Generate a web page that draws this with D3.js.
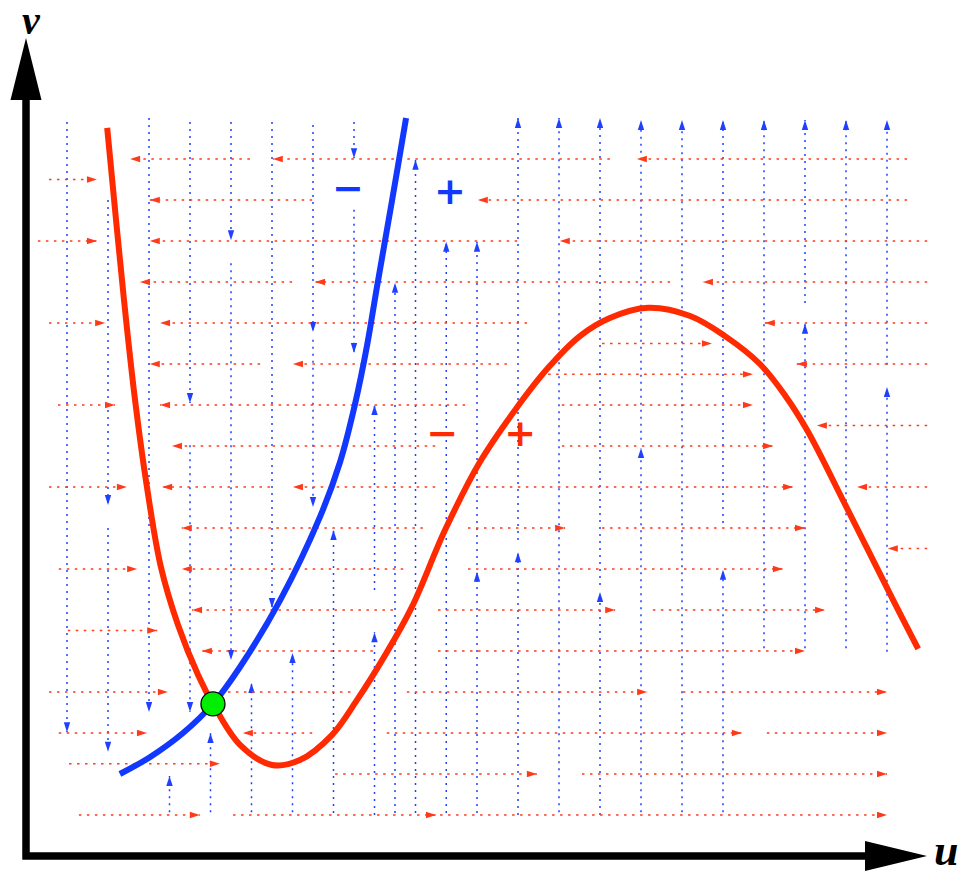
<!DOCTYPE html>
<html>
<head>
<meta charset="utf-8">
<script src="https://cdn.jsdelivr.net/npm/d3@7"></script>
<style>
  html, body { margin: 0; padding: 0; background: #fff; }
  svg { display: block; }
</style>
</head>
<body>
<svg id="chart" width="961" height="874"></svg>
<script>
// red nullcline (u' = 0), points as [u, v]
const redNullcline = [
    [1.98, 17.76], [2.39, 13.56], [2.66, 11.12], [2.95, 9.0], [3.29, 7.05],
    [3.71, 5.63], [4.20, 4.41], [4.56, 3.71], [5.22, 2.71], [6.0, 2.22],
    [6.68, 2.34], [7.46, 2.95], [8.07, 3.80], [8.76, 4.90], [9.41, 6.07],
    [10.22, 7.95], [11.07, 9.61], [11.93, 10.88], [12.73, 11.90], [13.51, 12.68],
    [14.24, 13.12], [15.17, 13.37], [16.20, 13.17], [17.05, 12.68], [17.90, 12.0],
    [18.51, 11.24], [19.05, 10.39], [20.02, 8.49], [21.15, 6.24], [21.76, 5.05]
];

// blue nullcline (v' = 0)
const blueNullcline = [
    [2.29, 2.0], [3.02, 2.41], [3.83, 3.0], [4.56, 3.71], [5.22, 4.61],
    [6.20, 6.24], [7.17, 8.27], [7.66, 9.61], [8.02, 11.0], [8.32, 12.46],
    [8.56, 13.88], [8.93, 16.0], [9.27, 18.0]
];

const steadyState = [4.56, 3.71];

// horizontal flow lines: [v, u at tail, u at head, has arrow]
const hFlow = [
    [17, 5.46, 2.54, 1], [17, 14.24, 6.02, 1], [17, 21.49, 14.90, 1],
    [16.5, 0.56, 1.73, 1],
    [16, 6.98, 3.02, 1], [16, 21.49, 11.02, 1],
    [15, 0.29, 1.73, 1], [15, 11.98, 3.02, 1], [15, 21.98, 13.02, 1],
    [14, 6.49, 2.78, 1], [14, 15.71, 7.05, 1], [14, 21.98, 16.51, 1],
    [13, 0.56, 1.93, 1], [13, 12.22, 3.27, 1], [13, 21.98, 18.02, 1],
    [12.5, 14.05, 16.73, 1],
    [12, 5.71, 3.02, 1], [12, 11.73, 6.51, 1], [12, 21.98, 18.80, 1],
    [11.75, 12.54, 17.73, 1],
    [11, 0.78, 2.17, 1], [11, 10.71, 3.27, 1], [11, 13.07, 17.73, 1],
    [10.5, 21.98, 19.29, 1],
    [10, 9.98, 3.56, 1], [10, 13.07, 18.22, 1],
    [9, 0.56, 2.46, 1], [9, 5.95, 3.32, 1], [9, 9.98, 6.51, 1], [9, 11.02, 18.71, 1], [9, 21.98, 20.27, 1],
    [8, 9.68, 3.80, 1], [8, 10.78, 13.15, 1], [8, 14.05, 19.00, 1],
    [7.5, 21.98, 21.02, 1],
    [7, 0.80, 2.71, 1], [7, 9.20, 3.80, 1], [7, 10.78, 18.46, 1],
    [6, 8.95, 4.05, 1], [6, 10.05, 14.37, 1], [6, 15.29, 19.49, 1],
    [5.5, 1.02, 3.20, 1],
    [5, 8.46, 4.29, 1], [5, 10.05, 19.00, 1],
    [4, 0.56, 3.46, 1], [4, 4.73, 7.98, 0], [4, 9.29, 15.15, 1], [4, 16.02, 21.00, 1],
    [3, 0.80, 2.95, 1], [3, 6.98, 5.29, 1], [3, 8.80, 17.46, 1], [3, 18.07, 21.00, 1],
    [2.25, 1.05, 4.73, 1],
    [2, 7.54, 12.46, 1], [2, 13.56, 21.00, 1],
    [1, 1.29, 4.24, 1], [1, 5.05, 10.0, 1], [1, 10.1, 21.0, 1]
];

// vertical flow lines: [u, v at tail, v at head, has arrow]
const vFlow = [
    [1, 17.9, 3.02, 1],
    [2, 16, 8.56, 1], [2, 8.0, 2.54, 1],
    [3, 18.0, 3.51, 1],
    [3.5, 1.07, 1.95, 1],
    [4, 17.9, 11.05, 1], [4, 10.02, 3.51, 1],
    [4.5, 1.07, 3.0, 1],
    [5, 17.9, 15.02, 1], [5, 14.46, 4.78, 1],
    [5.5, 1.07, 4.22, 1],
    [6, 17.9, 6.05, 1],
    [6.5, 1.07, 4.95, 1],
    [7, 17.83, 12.78, 1], [7, 12.59, 8.51, 1],
    [7.5, 1.05, 7.95, 1],
    [8, 17.9, 17.02, 1], [8, 15.76, 12.27, 1],
    [8.5, 6.49, 11.0, 1], [8.5, 1.0, 5.46, 1],
    [9, 1.05, 13.98, 1],
    [9.5, 1.05, 16.98, 1],
    [10.25, 1.05, 14.98, 1],
    [11, 7.10, 14.98, 1], [11, 1.05, 6.93, 1],
    [12, 7.71, 18.0, 1], [12, 1.0, 7.41, 1],
    [13, 1.07, 18.0, 1],
    [14, 6.61, 18.0, 1], [14, 1.0, 6.44, 1],
    [15, 10.15, 17.95, 1], [15, 1.07, 9.95, 1],
    [16, 1.07, 17.95, 1],
    [17, 8.12, 17.95, 1], [17, 1.07, 6.98, 1],
    [18, 5.07, 17.95, 1],
    [19, 13.49, 17.95, 1], [19, 5.07, 12.98, 1],
    [20, 5.07, 17.95, 1],
    [21, 11.98, 17.95, 1], [21, 4.98, 11.44, 1]
];

// sign of u' and v' on each side of the nullclines
const signText = ["\u2212", "+", "\u2212", "+"];
const signU = [7.85, 10.34, 10.15, 12.05];
const signV = [16.29, 16.22, 10.32, 10.32];
const signSeries = ["blue", "blue", "red", "red"];

const axisNames = ["u", "v"];

const RED = "#ff2a00";
const BLUE = "#1238ff";
const FLOW_RED = "#ff3a1a";
const FLOW_BLUE = "#2040ff";

const x = d3.scaleLinear().domain([0, 22]).range([26, 928]);
const y = d3.scaleLinear().domain([0, 20]).range([856, 36]);

const svg = d3.select("#chart");

function arrowHead(g, px, py, angle, len, half, color) {
    g.append("path")
        .attr("d", "M0,0L" + (-len) + "," + (-half) + "L" + (-len) + "," + half + "Z")
        .attr("transform", "translate(" + px + "," + py + ") rotate(" + angle + ")")
        .attr("fill", color);
}

// flow field
let flow = svg.append("g");

for (let d of vFlow) {
    flow.append("line")
        .attr("x1", x(d[0])).attr("x2", x(d[0]))
        .attr("y1", y(d[1])).attr("y2", y(d[2]))
        .attr("stroke", FLOW_BLUE)
        .attr("stroke-width", 1.5)
        .attr("stroke-dasharray", "2,5");
    if (d[3]) {
        arrowHead(flow, x(d[0]), y(d[2]), d[2] > d[1] ? -90 : 90, 10, 3.2, FLOW_BLUE);
    }
}

for (let d of hFlow) {
    flow.append("line")
        .attr("x1", x(d[1])).attr("x2", x(d[2]))
        .attr("y1", y(d[0])).attr("y2", y(d[0]))
        .attr("stroke", FLOW_RED)
        .attr("stroke-width", 1.5)
        .attr("stroke-dasharray", "2.5,5.5");
    if (d[3]) {
        arrowHead(flow, x(d[2]), y(d[0]), d[2] > d[1] ? 0 : 180, 10, 3.2, FLOW_RED);
    }
}

// nullclines
let line = d3.line()
    .x(d => x(d[0]))
    .y(d => y(d[1]))
    .curve(d3.curveCatmullRom.alpha(0.5));

svg.append("path")
    .attr("d", line(redNullcline))
    .attr("fill", "none")
    .attr("stroke", RED)
    .attr("stroke-width", 6);

svg.append("path")
    .attr("d", line(blueNullcline))
    .attr("fill", "none")
    .attr("stroke", BLUE)
    .attr("stroke-width", 6);

svg.append("circle")
    .attr("cx", x(steadyState[0]))
    .attr("cy", y(steadyState[1]))
    .attr("r", 12)
    .attr("fill", "#00ee00")
    .attr("stroke", "#000")
    .attr("stroke-width", 1.3);

// + / - signs
for (let i = 0; i < signText.length; i++) {
    svg.append("text")
        .attr("x", x(signU[i]))
        .attr("y", y(signV[i]))
        .attr("text-anchor", "middle")
        .attr("dominant-baseline", "central")
        .attr("font-family", "DejaVu Sans")
        .attr("font-weight", "bold")
        .attr("font-size", 38)
        .attr("fill", signSeries[i] == "red" ? RED : BLUE)
        .text(signText[i]);
}

// axes
let axes = svg.append("g");
axes.append("path")
    .attr("d", "M" + x(0) + "," + (y(18.5)) + "V" + (y(0) + 3.5) + "M" + (x(0) - 3.5) + "," + y(0) + "H" + x(20.5))
    .attr("fill", "none")
    .attr("stroke", "#000")
    .attr("stroke-width", 7.5);
arrowHead(axes, x(0), y(20) + 2, -90, 62, 15.5, "#000");
arrowHead(axes, x(22) - 1, y(0), 0, 62, 15, "#000");

axes.append("text")
    .attr("x", x(22) + 6)
    .attr("y", y(0) + 9)
    .attr("font-family", "Liberation Serif")
    .attr("font-style", "italic")
    .attr("font-weight", "bold")
    .attr("font-size", 44)
    .text(axisNames[0]);

axes.append("text")
    .attr("x", x(0) + 5)
    .attr("y", y(20) - 2)
    .attr("text-anchor", "middle")
    .attr("font-family", "Liberation Serif")
    .attr("font-style", "italic")
    .attr("font-weight", "bold")
    .attr("font-size", 40)
    .text(axisNames[1]);
</script>
</body>
</html>
